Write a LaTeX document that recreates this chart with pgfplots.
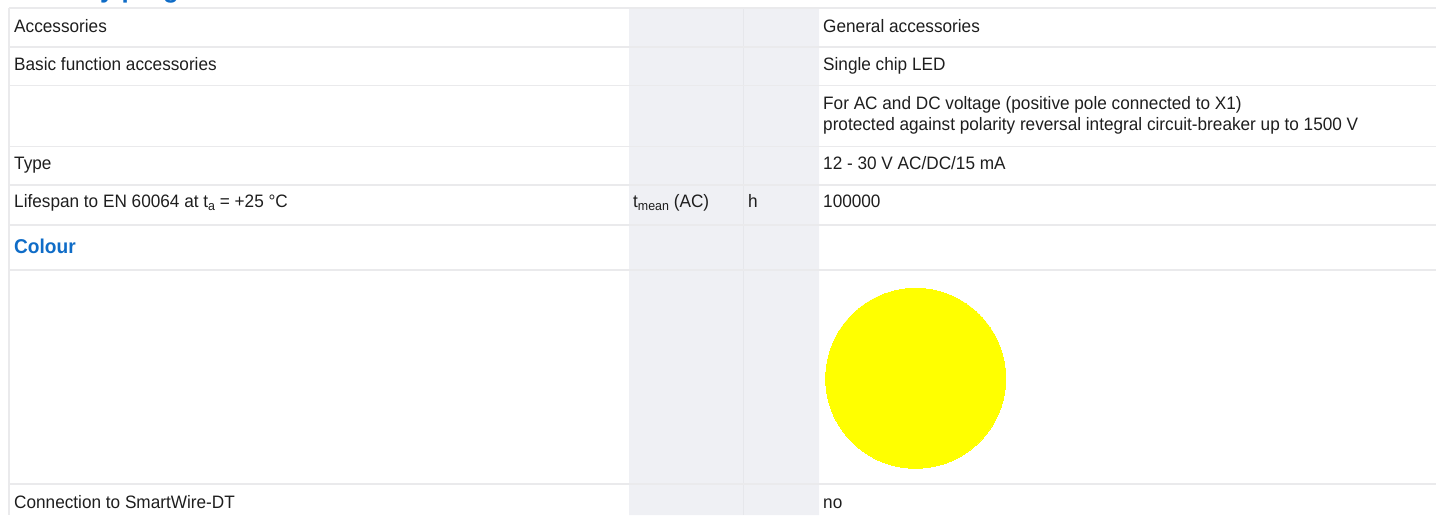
\documentclass[border=0pt]{standalone}
\usepackage{fontspec}
\setmainfont{Liberation Sans}[FakeStretch=0.955]
\usepackage{pgfplots}
\pgfplotsset{compat=1.18}
\definecolor{txt}{HTML}{1E1E1E}
\definecolor{hblue}{HTML}{0F6CC7}
\definecolor{colgray}{HTML}{EFF0F4}
\definecolor{rule}{HTML}{EAEAEC}
\definecolor{divider}{HTML}{E6E7EB}
\definecolor{swatch}{RGB}{255,255,0}
\newcommand{\tf}{\fontsize{18}{21}\selectfont\color{txt}}
\newcommand{\sub}[1]{\raisebox{-0.35ex}{\fontsize{13}{14}\selectfont #1}}
\begin{document}
\begin{tikzpicture}
\begin{axis}[
  width=1436pt, height=515pt, scale only axis,
  xmin=0, xmax=1436, ymin=0, ymax=515, y dir=reverse,
  hide axis, clip=false,
]
% grey unit/symbol column
\addplot[fill=colgray, draw=none] coordinates {(629,8) (819,8) (819,515) (629,515) (629,8)};
\addplot[divider, line width=1pt] coordinates {(743,8) (743,515)};
% table rules
\addplot[rule, line width=1.3pt] coordinates {(9,8) (1436,8)};
\addplot[rule, line width=1.3pt] coordinates {(9,47) (1436,47)};
\addplot[rule, line width=1.3pt] coordinates {(9,85.5) (1436,85.5)};
\addplot[rule, line width=1.3pt] coordinates {(9,146.5) (1436,146.5)};
\addplot[rule, line width=1.3pt] coordinates {(9,185) (1436,185)};
\addplot[rule, line width=1.3pt] coordinates {(9,225) (1436,225)};
\addplot[rule, line width=1.3pt] coordinates {(9,270) (1436,270)};
\addplot[rule, line width=1.3pt] coordinates {(9,484) (1436,484)};
\addplot[rule, line width=1.3pt] coordinates {(9,8) (9,515)};
% colour swatch
\addplot[swatch, only marks, mark=*, mark size=90pt, mark options={draw=swatch, fill=swatch, line width=0pt}] coordinates {(915.7,378.3)};
% title (cut off at the top, as in the reference)
\node[anchor=base west, inner sep=0pt, text=hblue, font=\fontsize{27}{30}\selectfont\bfseries] at (axis cs:14,-3) {Delivery program};
% texts
\node[anchor=base west, inner sep=0pt, font=\tf] at (axis cs:14,32.5) {Accessories};
\node[anchor=base west, inner sep=0pt, font=\tf] at (axis cs:823,32.5) {General accessories};
\node[anchor=base west, inner sep=0pt, font=\tf] at (axis cs:14,70.5) {Basic function accessories};
\node[anchor=base west, inner sep=0pt, font=\tf] at (axis cs:823,70.5) {Single chip LED};
\node[anchor=base west, inner sep=0pt, font=\tf] at (axis cs:823,109.3) {For AC and DC voltage (positive pole connected to X1)};
\node[anchor=base west, inner sep=0pt, font=\tf] at (axis cs:823,130.7) {protected against polarity reversal integral circuit-breaker up to 1500 V};
\node[anchor=base west, inner sep=0pt, font=\tf] at (axis cs:14,169.3) {Type};
\node[anchor=base west, inner sep=0pt, font=\tf] at (axis cs:823,169.3) {12 - 30 V AC/DC/15 mA};
\node[anchor=base west, inner sep=0pt, font=\tf] at (axis cs:14,207.3) {Lifespan to EN 60064 at t\sub{a} = +25 °C};
\node[anchor=base west, inner sep=0pt, font=\tf] at (axis cs:633,207.3) {t\sub{mean} (AC)};
\node[anchor=base west, inner sep=0pt, font=\tf] at (axis cs:748,207.3) {h};
\node[anchor=base west, inner sep=0pt, font=\tf] at (axis cs:823,207.3) {100000};
\node[anchor=base west, inner sep=0pt, text=hblue, font=\fontsize{20}{24}\selectfont\bfseries] at (axis cs:14,253.3) {Colour};
\node[anchor=base west, inner sep=0pt, font=\tf] at (axis cs:14,508.3) {Connection to SmartWire-DT};
\node[anchor=base west, inner sep=0pt, font=\tf] at (axis cs:823,508.3) {no};
\end{axis}
\pgfresetboundingbox
\useasboundingbox (current axis.south west) rectangle (current axis.north east);
\end{tikzpicture}
\end{document}
